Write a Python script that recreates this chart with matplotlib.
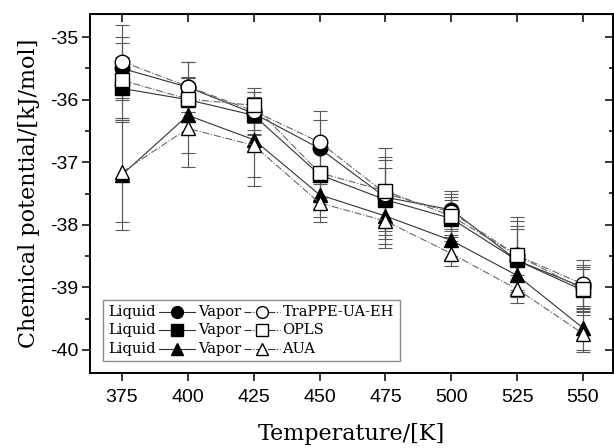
import matplotlib
matplotlib.use("Agg")
import matplotlib.pyplot as plt
from matplotlib.lines import Line2D
from matplotlib.ticker import MultipleLocator
from matplotlib.offsetbox import TextArea, DrawingArea, HPacker, VPacker, AnchoredOffsetbox

# temperature / K
temps = [375, 400, 425, 450, 475, 500, 525, 550]

# chemical potential / kJ/mol
trappe_liq = [-35.50, -35.80, -36.22, -36.78, -37.56, -37.76, -38.57, -39.00]
trappe_vap = [-35.39, -35.79, -36.18, -36.68, -37.50, -37.80, -38.49, -38.95]
opls_liq = [-35.82, -36.00, -36.25, -37.20, -37.60, -37.90, -38.57, -39.05]
opls_vap = [-35.69, -35.99, -36.09, -37.17, -37.46, -37.86, -38.49, -39.03]
aua_liq = [-37.20, -36.25, -36.64, -37.52, -37.86, -38.25, -38.81, -39.65]
aua_vap = [-37.16, -36.46, -36.73, -37.65, -37.94, -38.46, -39.03, -39.74]

trappe_liq_err = [0.50, 0.40, 0.35, 0.45, 0.60, 0.30, 0.55, 0.35]
trappe_vap_err = [0.58, 0.40, 0.30, 0.50, 0.72, 0.30, 0.62, 0.38]
opls_liq_err = [0.50, 0.35, 0.30, 0.40, 0.50, 0.30, 0.50, 0.35]
opls_vap_err = [0.60, 0.35, 0.28, 0.40, 0.55, 0.30, 0.55, 0.35]
aua_liq_err = [0.88, 0.60, 0.60, 0.35, 0.45, 0.30, 0.35, 0.35]
aua_vap_err = [0.80, 0.62, 0.65, 0.30, 0.43, 0.20, 0.22, 0.30]

models = ["TraPPE-UA-EH", "OPLS", "AUA"]
markers = ["o", "s", "^"]

SERIF = "DejaVu Serif"
SANS = "Liberation Sans"
plt.rcParams["axes.unicode_minus"] = False

fig = plt.figure(figsize=(6.14, 4.48), dpi=100)
ax = fig.add_axes([90 / 614, 1 - 373 / 448, 523 / 614, 359 / 448])

series = [
    (trappe_liq, trappe_liq_err, trappe_vap, trappe_vap_err),
    (opls_liq, opls_liq_err, opls_vap, opls_vap_err),
    (aua_liq, aua_liq_err, aua_vap, aua_vap_err),
]

# error bars first, underneath everything
for liq, liq_err, vap, vap_err in series:
    for y, e in ((liq, liq_err), (vap, vap_err)):
        ax.errorbar(temps, y, yerr=e, fmt="none", ecolor="0.35", elinewidth=0.8,
                    capsize=5, capthick=0.8, zorder=1)

for (liq, _, vap, _), m in zip(series, markers):
    ax.plot(temps, liq, "-", color="0.2", lw=0.8, marker=m, ms=10.5,
            mfc="black", mec="black", zorder=3)
    ax.plot(temps, vap, "-.", color="0.4", lw=0.8, marker=m, ms=10.5,
            mfc="white", mec="black", mew=1.0, zorder=4)

ax.set_xlim(362.85, 561.4)
ax.set_ylim(-40.37, -34.63)
ax.xaxis.set_major_locator(MultipleLocator(25))
ax.yaxis.set_major_locator(MultipleLocator(1))
ax.yaxis.set_minor_locator(MultipleLocator(0.5))

for s in ax.spines.values():
    s.set_linewidth(1.4)
ax.tick_params(which="major", direction="out", length=5.5, width=1.1, labelsize=14)
ax.tick_params(axis="x", which="major", pad=6)
ax.tick_params(axis="y", which="major", pad=3)
ax.tick_params(which="minor", direction="out", length=3.5, width=1.1)
for lab in ax.get_xticklabels() + ax.get_yticklabels():
    lab.set_fontfamily(SANS)

# mirrored ticks on top and right point inward
top = ax.secondary_xaxis("top")
top.xaxis.set_major_locator(MultipleLocator(25))
top.tick_params(direction="in", length=5.5, width=1.1, labeltop=False)
right = ax.secondary_yaxis("right")
right.yaxis.set_major_locator(MultipleLocator(1))
right.yaxis.set_minor_locator(MultipleLocator(0.5))
right.tick_params(which="major", direction="in", length=5.5, width=1.1, labelright=False)
right.tick_params(which="minor", direction="in", length=3, width=1.1)

ax.set_xlabel("Temperature/[K]", fontfamily=SERIF, fontsize=16, labelpad=12)
ax.set_ylabel("Chemical potential/[kJ/mol]", fontfamily=SERIF, fontsize=16, labelpad=7)


# Origin-style legend: "Liquid -●- Vapor -○- model"
def handle(m, ls, fc):
    da = DrawingArea(26, 10, 0, 0)
    da.add_artist(Line2D([0, 26], [5, 5], ls=ls, lw=0.8, color="0.2"))
    da.add_artist(Line2D([13], [5], marker=m, ms=8.5, mfc=fc, mec="black", lw=0))
    return da


tp = dict(fontfamily=SERIF, fontsize=10.5)
rows = []
for name, m in zip(models, markers):
    rows.append(HPacker(children=[
        TextArea("Liquid", textprops=tp), handle(m, "-", "black"),
        TextArea("Vapor", textprops=tp), handle(m, "-.", "white"),
        TextArea(name, textprops=tp),
    ], sep=2, align="center", pad=0))
box = VPacker(children=rows, sep=3, align="left", pad=0)
leg = AnchoredOffsetbox(loc="lower left", child=box, pad=0.4, borderpad=0,
                        frameon=True, bbox_to_anchor=(0.025, 0.033),
                        bbox_transform=ax.transAxes)
leg.patch.set_boxstyle("square", pad=0)
leg.patch.set_edgecolor("0.55")
leg.patch.set_linewidth(1.0)
leg.zorder = 6
ax.add_artist(leg)

fig.savefig("out.png", dpi=100)
